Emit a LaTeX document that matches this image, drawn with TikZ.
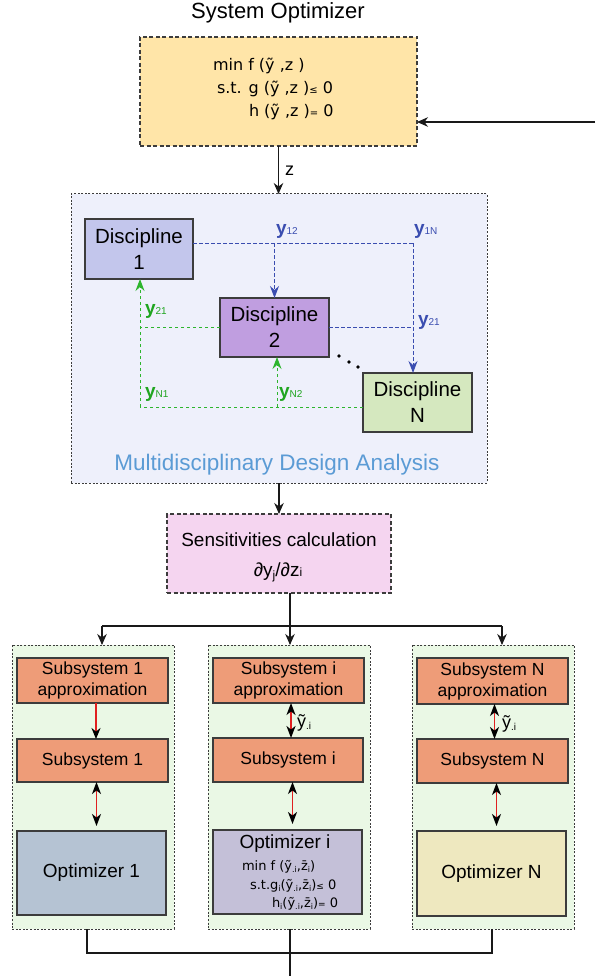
\documentclass[tikz,border=0pt]{standalone}
\usepackage{fontspec}
\setmainfont{Liberation Sans}
\newfontfamily\djv{DejaVu Sans}
\usetikzlibrary{arrows.meta,calc}

\definecolor{edge}{HTML}{3C3C3C}
\definecolor{optfill}{HTML}{FFE5A8}
\definecolor{mdafill}{HTML}{EEF0FB}
\definecolor{dOne}{HTML}{C3C6EC}
\definecolor{dTwo}{HTML}{C09EE0}
\definecolor{dNfill}{HTML}{D5E8BF}
\definecolor{sensfill}{HTML}{F5D5F0}
\definecolor{colfill}{HTML}{EAF8E5}
\definecolor{subfill}{HTML}{EE9C78}
\definecolor{optOne}{HTML}{B5C3D3}
\definecolor{optI}{HTML}{C4C0D8}
\definecolor{optNfill}{HTML}{EEE8BF}
\definecolor{ylink}{HTML}{3A4DB0}
\definecolor{glink}{HTML}{2DB52D}
\definecolor{glabel}{HTML}{1FA51F}
\definecolor{mdatext}{HTML}{5B9BD5}
\definecolor{redlink}{HTML}{E02020}

\newcommand\fs[2]{\fontsize{#1}{#2}\selectfont}
% coupling variable label: bold y with a small index on the baseline
\newcommand\ylab[1]{{\fs{19}{22}\bfseries y}{\fs{10}{12}#1}}
% small lowered index for the formulas
\newcommand\sbi[1]{\raisebox{-2.5pt}{\fs{8}{9}#1}}

\begin{document}
\begin{tikzpicture}[x=1pt,y=-1pt,
  every node/.style={inner sep=0pt, outer sep=0pt},
  box/.style={draw=edge, line width=1.1pt, rectangle, align=center},
  dashbox/.style={draw=edge, line width=1.1pt, dash pattern=on 4pt off 2.5pt},
  dotbox/.style={draw=edge, line width=1pt, dash pattern=on 2pt off 1.6pt},
  flow/.style={draw=black!90, line width=1.1pt},
  arr/.style={-{Stealth[length=11pt,width=9.5pt,inset=3.5pt]}},
  blink/.style={draw=ylink, line width=1pt, dash pattern=on 3.5pt off 2.5pt,
    -{Stealth[length=12pt,width=9pt,inset=4pt]}},
  bline/.style={draw=ylink, line width=1pt, dash pattern=on 3.5pt off 2.5pt},
  glinkline/.style={draw=glink, line width=1pt, dash pattern=on 3.5pt off 2.5pt},
  glinkarr/.style={glinkline, -{Stealth[length=12pt,width=9pt,inset=4pt]}},
  redone/.style={draw=redlink, line width=1.5pt,
    -{Stealth[black,length=11pt,width=9pt,inset=3.5pt]}},
  redtwo/.style={draw=redlink, line width=1.5pt,
    {Stealth[black,length=12pt,width=9pt,inset=3.5pt]}-{Stealth[black,length=12pt,width=9pt,inset=3.5pt]}},
  subbox/.style={box, fill=subfill, minimum width=151pt, font=\fs{17.5}{21}},
  optbox/.style={box, minimum width=149pt, minimum height=84pt, font=\fs{19}{22}},
  column/.style={dotbox, fill=colfill, minimum width=162pt, minimum height=284pt},
  disc/.style={box, minimum width=108pt, minimum height=60pt, font=\fs{20.5}{26}},
]
\useasboundingbox (0,0) rectangle (595,976);

% ---------- system level optimizer ----------
\node[anchor=base] (title) at (278,19) {\fs{22}{26}System Optimizer};
\node[dashbox, fill=optfill, minimum width=277pt, minimum height=109pt] (sysopt) at (278.5,91.5) {};
\node[anchor=base west] (fmin) at (213,71) {\djv\fs{16}{18}min f (ỹ ,z )};
\node[anchor=base west] (fg) at (217,94) {\djv\fs{16}{18}s.t. g (ỹ ,z ){\fs{10}{12}≤} 0};
\node[anchor=base west] (fh) at (249,117) {\djv\fs{16}{18}h (ỹ ,z ){\fs{10}{12}=} 0};
\coordinate (feed) at (595,122);
\draw[flow,arr] (feed) -- (feed -| sysopt.east);

% ---------- multidisciplinary analysis ----------
\node[dotbox, fill=mdafill, minimum width=416pt, minimum height=289pt] (mda) at (279,338.5) {};
\draw[flow,arr] (sysopt.south) -- (sysopt.south |- mda.north);
\node[anchor=base west] (zlab) at (285,176) {\fs{18}{20}z};

\node[disc, fill=dOne] (d1) at (139,249) {Discipline\\1};
\node[disc, fill=dTwo, minimum width=109pt, minimum height=59pt] (d2) at (274.5,327.5) {Discipline\\2};
\node[disc, fill=dNfill, minimum width=109pt, minimum height=59pt] (dN) at (417.5,402.5) {Discipline\\N};

% outputs of discipline 1 and 2 (blue)
\coordinate (b1) at (413,243);
\draw[bline] (d1.east |- b1) -- (b1);
\draw[blink] (b1) -- (b1 |- dN.north);
\draw[blink] (d2.north |- b1) -- (d2.north);
\draw[bline] (d2.east) -- (d2.east -| b1);

% feedback couplings (green)
\coordinate (g1) at (140,407);
\coordinate (g2) at (277,407);
\draw[glinkline] (d2.west) -- (d2.west -| g1);
\draw[glinkarr] (g1) -- (g1 |- d1.south);
\draw[glinkline] (dN.west |- g1) -- (g1);
\draw[glinkarr] (g2) -- (g2 |- d2.south);

\node[anchor=base west, text=ylink] (y12) at (276,234) {\ylab{12}};
\node[anchor=base west, text=ylink] (y1N) at (414,234) {\ylab{1N}};
\node[anchor=base west, text=ylink] (y21b) at (418,325) {\ylab{21}};
\node[anchor=base west, text=glabel] (y21g) at (145,314) {\ylab{21}};
\node[anchor=base west, text=glabel] (yN1) at (145,397) {\ylab{N1}};
\node[anchor=base west, text=glabel] (yN2) at (279,397) {\ylab{N2}};

% further disciplines
\fill ($(d2.south east)+(10,-1)$) circle (1.8pt);
\fill ($(d2.south east)+(20,5)$) circle (1.8pt);
\fill ($(d2.south east)+(29,10)$) circle (1.8pt);

\node[text=mdatext] (mdalab) at (277,465) {\fs{22.5}{26}Multidisciplinary Design Analysis};

% ---------- sensitivities ----------
\node[dashbox, fill=sensfill, minimum width=224pt, minimum height=79pt] (sens) at (279,553.5) {};
\draw[flow,arr] (mda.south) -- (sens.north);
\node[anchor=base] (senstxt) at (279,546) {\fs{19}{22}Sensitivities calculation};
\node[anchor=base] (sensfml) at (278,576) {\fs{19}{22}∂y\raisebox{-3pt}{\fs{12}{14}j}/∂z{\fs{12}{14}i}};

\coordinate (split) at (290,626);
\coordinate (sl) at (102,626);
\coordinate (sr) at (502,626);
\draw[flow] (sens.south -| split) -- (split);
\draw[flow] (sl) -- (sr);

% ---------- subsystem columns ----------
\node[column] (col1) at (93,787) {};
\node[column] (coli) at (289,787) {};
\node[column] (colN) at (493,787) {};
\draw[flow,arr] (sl) -- (sl |- col1.north);
\draw[flow,arr] (split) -- (split |- coli.north);
\draw[flow,arr] (sr) -- (sr |- colN.north);

% column 1
\node[subbox, minimum height=45pt] (a1) at (92.5,680.5) {Subsystem 1\\approximation};
\node[subbox, minimum height=43pt] (s1) at (92.5,760.5) {Subsystem 1};
\node[optbox, fill=optOne] (o1) at (91.5,873) {Optimizer 1};
\draw[redone] ([xshift=3.5pt]a1.south) -- ([xshift=3.5pt]s1.north);
\draw[redtwo, shorten >=5pt] ([xshift=4pt]s1.south) -- ([xshift=4pt]s1.south |- o1.north);

% column i
\node[subbox, minimum height=45pt] (ai) at (288.5,680.5) {Subsystem i\\approximation};
\node[subbox, minimum height=44pt, minimum width=150pt] (si) at (288,760) {Subsystem i};
\node[optbox, fill=optI] (oi) at (287.5,872) {};
\draw[redtwo] ([xshift=2.5pt]ai.south) -- ([xshift=2.5pt]ai.south |- si.north);
\draw[redtwo, shorten >=6pt] ([xshift=4.5pt]si.south) -- ([xshift=4.5pt]si.south |- oi.north);
\node[anchor=base west] (yti) at (297,727) {\fs{18}{20}ỹ\raisebox{-2pt}{\fs{10}{12}.i}};
\node[anchor=base] (oitxt) at (285,848) {\fs{19}{22}Optimizer i};
\node[anchor=base west] (oimin) at (242,870) {\djv\fs{13}{15}min f (ỹ\sbi{.i},z̄\sbi{i})};
\node[anchor=base west] (oig) at (250,889) {\djv\fs{13}{15}s.t.g\sbi{i}(ỹ\sbi{.i},z̄\sbi{i}){\fs{9}{10}≤} 0};
\node[anchor=base west] (oih) at (272,907) {\djv\fs{13}{15}h\sbi{i}(ỹ\sbi{.i},z̄\sbi{i}){\fs{9}{10}=} 0};

% column N
\node[subbox, minimum height=46pt] (aN) at (492.5,681) {Subsystem N\\approximation};
\node[subbox, minimum height=44pt] (sN) at (492.5,761) {Subsystem N};
\node[optbox, fill=optNfill, minimum height=85pt] (oN) at (491.5,873.5) {Optimizer N};
\draw[redtwo] ([xshift=2pt]aN.south) -- ([xshift=2pt]aN.south |- sN.north);
\draw[redtwo, shorten >=5pt] ([xshift=4pt]sN.south) -- ([xshift=4pt]sN.south |- oN.north);
\node[anchor=base west] (ytN) at (502,728) {\fs{18}{20}ỹ\raisebox{-2pt}{\fs{10}{12}.i}};

% ---------- gathering the subsystem results ----------
\coordinate (jl) at (87,953);
\coordinate (jr) at (492,953);
\coordinate (out) at (290,976);
\draw[flow] (jl |- col1.south) -- (jl) -- (jr) -- (jr |- colN.south);
\draw[flow] (coli.south -| out) -- (out);
\end{tikzpicture}
\end{document}
